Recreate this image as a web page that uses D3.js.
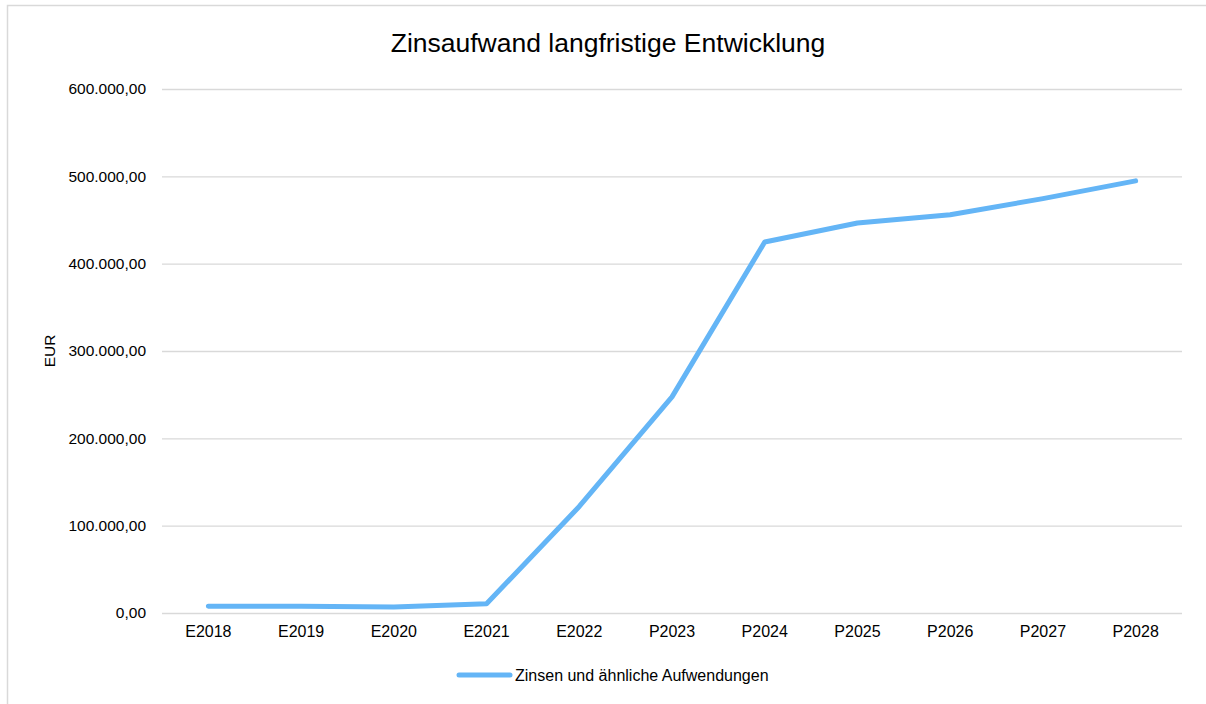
<!DOCTYPE html>
<html>
<head>
<meta charset="utf-8">
<script src="https://cdn.jsdelivr.net/npm/d3@7"></script>
<style>
  body { margin: 0; background: #fff; }
  svg { display: block; font-family: "Liberation Sans", Arial, sans-serif; }
</style>
</head>
<body>
<div id="chart"></div>
<script>
// DATA
const categories = ["E2018", "E2019", "E2020", "E2021", "E2022", "P2023", "P2024", "P2025", "P2026", "P2027", "P2028"];
const zinsen = [7700, 7800, 6900, 10500, 122000, 247500, 424800, 446500, 456000, 474500, 494800];
const yTicks = [0, 100000, 200000, 300000, 400000, 500000, 600000];
const seriesName = "Zinsen und ähnliche Aufwendungen";
const chartTitle = "Zinsaufwand langfristige Entwicklung";
const yTitle = "EUR";

const W = 1206, H = 704;
const MARGIN = { TOP: 89, BOTTOM: 91, LEFT: 162, RIGHT: 24 };
const WIDTH = W - MARGIN.LEFT - MARGIN.RIGHT;
const HEIGHT = H - MARGIN.TOP - MARGIN.BOTTOM;
const LINE_COLOR = "#64b5f6";
const GRID_COLOR = "#d9d9d9";

const de = d3.formatLocale({ decimal: ",", thousands: ".", grouping: [3], currency: ["", " €"] });
const fmt = de.format(",.2f");

const svg = d3.select("#chart").append("svg")
  .attr("width", W)
  .attr("height", H);

// chart frame (only top and left edges are visible)
svg.append("rect")
  .attr("x", 7.5).attr("y", 5.5)
  .attr("width", W + 20).attr("height", H + 20)
  .attr("fill", "#fff")
  .attr("stroke", GRID_COLOR)
  .attr("stroke-width", 1.5);

// TITLE
svg.append("text")
  .attr("x", 608)
  .attr("y", 52)
  .attr("text-anchor", "middle")
  .attr("font-size", 26.5)
  .attr("fill", "#000")
  .text(chartTitle);

const g = svg.append("g")
  .attr("transform", `translate(${MARGIN.LEFT}, ${MARGIN.TOP})`);

// SCALES
const x = d3.scaleBand().domain(categories).range([0, WIDTH]);
const y = d3.scaleLinear().domain([0, 600000]).range([HEIGHT, 0]);

// GRID + Y AXIS
const yAxis = d3.axisLeft(y).tickValues(yTicks).tickFormat(fmt).tickSize(-WIDTH).tickPadding(16);
const yAxisGroup = g.append("g").call(yAxis);
yAxisGroup.select(".domain").remove();
yAxisGroup.selectAll(".tick line")
  .attr("stroke", GRID_COLOR)
  .attr("stroke-width", 1.3);
yAxisGroup.selectAll(".tick text")
  .attr("font-size", 15.5)
  .attr("fill", "#000")
  .attr("font-family", "Liberation Sans, Arial, sans-serif");

// X AXIS
const xAxis = d3.axisBottom(x).tickSize(0).tickPadding(13);
const xAxisGroup = g.append("g")
  .attr("transform", `translate(0, ${HEIGHT})`)
  .call(xAxis);
xAxisGroup.select(".domain").remove();
xAxisGroup.selectAll(".tick text")
  .attr("font-size", 16)
  .attr("fill", "#000")
  .attr("font-family", "Liberation Sans, Arial, sans-serif");

// Y AXIS TITLE
svg.append("text")
  .attr("transform", `translate(55, ${MARGIN.TOP + HEIGHT / 2}) rotate(-90)`)
  .attr("text-anchor", "middle")
  .attr("font-size", 15.5)
  .attr("fill", "#000")
  .text(yTitle);

// LINE
const line = d3.line()
  .x((d, i) => x(categories[i]) + x.bandwidth() / 2)
  .y(d => y(d));

g.append("path")
  .datum(zinsen)
  .attr("fill", "none")
  .attr("stroke", LINE_COLOR)
  .attr("stroke-width", 5)
  .attr("stroke-linejoin", "round")
  .attr("stroke-linecap", "round")
  .attr("d", line);

// LEGEND
const legend = svg.append("g").attr("transform", "translate(459, 675)");
legend.append("line")
  .attr("x1", 0).attr("x2", 51)
  .attr("y1", 0).attr("y2", 0)
  .attr("stroke", LINE_COLOR)
  .attr("stroke-width", 5)
  .attr("stroke-linecap", "round");
legend.append("text")
  .attr("x", 56)
  .attr("y", 5.5)
  .attr("font-size", 16)
  .attr("fill", "#000")
  .text(seriesName);
</script>
</body>
</html>
